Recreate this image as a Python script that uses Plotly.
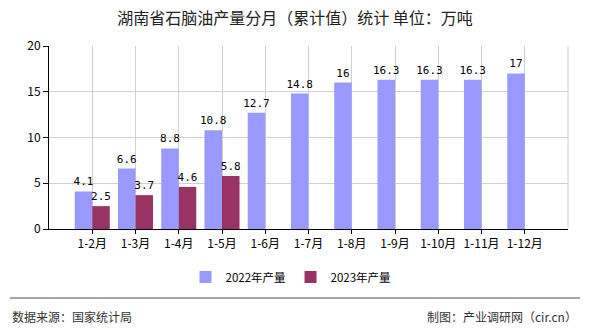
import plotly.graph_objects as go

categories = ["1-2月", "1-3月", "1-4月", "1-5月", "1-6月", "1-7月", "1-8月", "1-9月", "1-10月", "1-11月", "1-12月"]
values_2022 = [4.1, 6.6, 8.8, 10.8, 12.7, 14.8, 16, 16.3, 16.3, 16.3, 17]
values_2023 = [2.5, 3.7, 4.6, 5.8, None, None, None, None, None, None, None]
series_names = ["2022年产量", "2023年产量"]
y_ticks = [0, 5, 10, 15, 20]

FONT = "Noto Sans CJK SC"

def fmt(v):
    if v is None:
        return ""
    return ("%g" % v)

fig = go.Figure()
fig.add_trace(go.Bar(
    x=categories, y=values_2022, name=series_names[0],
    marker=dict(color="#9999FF", line=dict(width=0)),
    text=[fmt(v) for v in values_2022], textposition="outside",
    textfont=dict(size=11, color="black", family="DejaVu Sans Mono"),
    constraintext="none", cliponaxis=False,
))
fig.add_trace(go.Bar(
    x=categories, y=values_2023, name=series_names[1],
    marker=dict(color="#993366", line=dict(width=0)),
    text=[fmt(v) for v in values_2023], textposition="outside",
    textfont=dict(size=11, color="black", family="DejaVu Sans Mono"),
    constraintext="none", cliponaxis=False,
))

W, H = 590, 330
L, R, T, B = 49, 22, 46, 101
pw, ph = W - L - R, H - T - B

def px(x):
    return (x - L) / pw

def py(y):
    return (H - B - y) / ph

fig.update_layout(
    width=W, height=H,
    margin=dict(l=L, r=R, t=T, b=B, autoexpand=False),
    paper_bgcolor="white", plot_bgcolor="white",
    font=dict(family=FONT, size=11, color="black"),
    barmode="group", bargap=0.19, bargroupgap=0,
    uniformtext=dict(mode=False),
    title=dict(text="湖南省石脑油产量分月（累计值）统计 单位：万吨",
               x=0.5, xref="container", xanchor="center",
               y=1 - 18 / H, yref="container", yanchor="middle",
               font=dict(size=16, color="#222222", family=FONT)),
    legend=dict(orientation="h", x=px(291), xref="paper", xanchor="center",
                y=py(277), yref="paper", yanchor="middle",
                font=dict(size=11.5, color="black", family=FONT),
                itemwidth=30, traceorder="normal"),
    xaxis=dict(type="category", range=[-1, 11], automargin=False,
               showgrid=True, gridcolor="#D0D0D0", gridwidth=1,
               showline=True, linecolor="black", linewidth=1,
               ticks="outside", ticklen=4, tickcolor="black",
               tickfont=dict(size=12, family=FONT), fixedrange=True),
    yaxis=dict(range=[0, 20], tickvals=y_ticks, automargin=False,
               showgrid=True, gridcolor="#D0D0D0", gridwidth=1,
               showline=True, linecolor="black", linewidth=1,
               ticks="outside", ticklen=5, tickcolor="black",
               tickfont=dict(size=12, family=FONT), zeroline=False),
    showlegend=True,
)

# right border of plot area
fig.add_shape(type="line", xref="paper", yref="paper", x0=1, x1=1, y0=0, y1=1,
              line=dict(color="#D0D0D0", width=1))
# footer separator
fig.add_shape(type="line", xref="paper", yref="paper",
              x0=px(10), x1=px(580), y0=py(298), y1=py(298),
              line=dict(color="#888888", width=1.5))
fig.add_annotation(text="数据来源：国家统计局", xref="paper", yref="paper",
                   x=px(10), y=py(316), xanchor="left", yanchor="middle",
                   showarrow=False, font=dict(size=12, color="#333333", family=FONT))
fig.add_annotation(text="制图：产业调研网（cir.cn）", xref="paper", yref="paper",
                   x=px(579), y=py(316), xanchor="right", yanchor="middle",
                   showarrow=False, font=dict(size=12, color="#333333", family=FONT))

fig.write_html("out.html")
